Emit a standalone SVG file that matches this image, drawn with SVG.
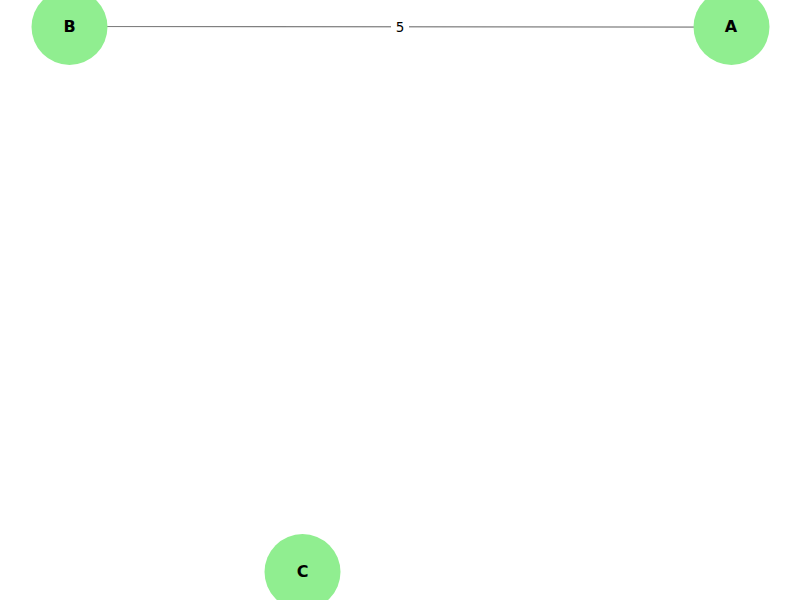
<svg xmlns="http://www.w3.org/2000/svg" width="800" height="600" viewBox="0 0 800 600">
<style>
.node circle{fill:#90ee90;}
.node text{font-family:"DejaVu Sans",sans-serif;font-size:16px;font-weight:bold;fill:#000;text-anchor:middle;dominant-baseline:central;}
.edge line{stroke:#808080;stroke-width:1.2;}
.elabel{font-family:"DejaVu Sans",sans-serif;font-size:13.5px;fill:#000;text-anchor:middle;dominant-baseline:central;}
</style>
<rect width="800" height="600" fill="#fff"/>
<g id="edges" class="edge">
<line x1="69.5" y1="26.5" x2="731.5" y2="27.2"/>
<rect x="391" y="17" width="18" height="19" fill="#fff"/>
<text class="elabel" x="400" y="26.5">5</text>
</g>
<g id="node-B" class="node"><circle cx="69.5" cy="27" r="38"/><text x="69.5" y="26.3">B</text></g>
<g id="node-A" class="node"><circle cx="731.5" cy="27" r="38"/><text x="731" y="26.3">A</text></g>
<g id="node-C" class="node"><circle cx="302.5" cy="572" r="38"/><text x="302.5" y="571.3">C</text></g>
</svg>
